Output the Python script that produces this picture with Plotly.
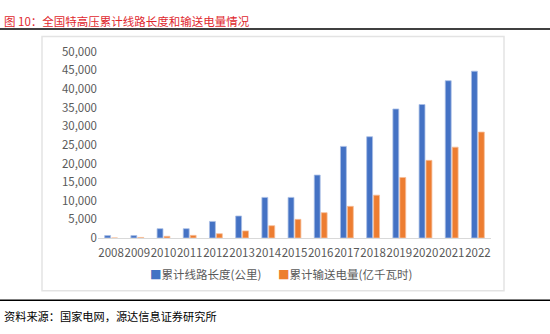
import plotly.graph_objects as go

years = ["2008", "2009", "2010", "2011", "2012", "2013", "2014", "2015",
         "2016", "2017", "2018", "2019", "2020", "2021", "2022"]
line_length = [640, 640, 2500, 2500, 4450, 5900, 10900, 10900,
               16900, 24600, 27200, 34650, 35850, 42250, 44800]
energy = [0, 150, 450, 700, 1150, 1900, 3300, 5000,
          6800, 8500, 11500, 16250, 20850, 24400, 28450]
name_len = "累计线路长度(公里)"
name_energy = "累计输送电量(亿千瓦时)"
y_ticks = [0, 5000, 10000, 15000, 20000, 25000, 30000, 35000, 40000, 45000, 50000]
title_text = "图 10：全国特高压累计线路长度和输送电量情况"
source_text = "资料来源：国家电网，源达信息证券研究所"

BLUE = "#4472C4"
ORANGE = "#ED7D31"
W, H = 550, 334
FONT = "Noto Sans CJK SC"

def px_x(x):
    return x / W

def px_y(y):
    return 1 - y / H

fig = go.Figure()
fig.add_trace(go.Bar(x=years, y=line_length, name=name_len,
                     marker=dict(color=BLUE, line=dict(color="#A9BFE6", width=0.8))))
fig.add_trace(go.Bar(x=years, y=energy, name=name_energy,
                     marker=dict(color=ORANGE, line=dict(color="#F6BE98", width=0.8))))

fig.update_layout(
    width=W, height=H,
    margin=dict(l=0, r=0, t=0, b=0),
    paper_bgcolor="white", plot_bgcolor="white",
    barmode="group", bargap=0.47, bargroupgap=0.15,
    showlegend=False,
    font=dict(family=FONT, color="#595959", size=11.5),
    xaxis=dict(domain=[px_x(98), px_x(491)], showgrid=False, zeroline=False,
               showline=True, linecolor="#D9D9D9", linewidth=1,
               ticks="", tickangle=0, ticklabelstandoff=4,
               tickfont=dict(size=11.5, color="#595959"),
               fixedrange=True),
    yaxis=dict(domain=[px_y(240.5), px_y(45)], range=[0, 50000],
               tickvals=y_ticks, tickformat=",d", showgrid=False,
               zeroline=False, showline=False, ticks="",
               tickfont=dict(size=11.5, color="#595959"), fixedrange=True),
)

shapes = [
    dict(type="line", xref="paper", yref="paper", x0=0, x1=1,
         y0=px_y(21), y1=px_y(21), line=dict(color="black", width=1.5)),
    dict(type="line", xref="paper", yref="paper", x0=0, x1=1,
         y0=px_y(306), y1=px_y(306), line=dict(color="black", width=1.5)),
    dict(type="rect", xref="paper", yref="paper", x0=px_x(42), x1=px_x(504),
         y0=px_y(296), y1=px_y(29), line=dict(color="#E3E3E3", width=1.5)),
]
fig.update_layout(shapes=shapes)

annotations = [
    dict(text=title_text, xref="paper", yref="paper", x=px_x(2), y=px_y(13),
         xanchor="left", yanchor="middle", showarrow=False,
         font=dict(family=FONT, size=11.5, color="#E0282E")),
    dict(text=source_text, xref="paper", yref="paper", x=px_x(2), y=px_y(322),
         xanchor="left", yanchor="middle", showarrow=False,
         font=dict(family=FONT, size=11.2, color="#000000")),
    dict(text=f'<span style="color:{BLUE}">■</span>{name_len}', xref="paper", yref="paper",
         x=px_x(148), y=px_y(278), xanchor="left", yanchor="middle", showarrow=False,
         font=dict(family=FONT, size=11.5, color="#595959")),
    dict(text=f'<span style="color:{ORANGE}">■</span>{name_energy}', xref="paper", yref="paper",
         x=px_x(276), y=px_y(278), xanchor="left", yanchor="middle", showarrow=False,
         font=dict(family=FONT, size=11.5, color="#595959")),
]
fig.update_layout(annotations=annotations)

fig.write_html("out.html")
